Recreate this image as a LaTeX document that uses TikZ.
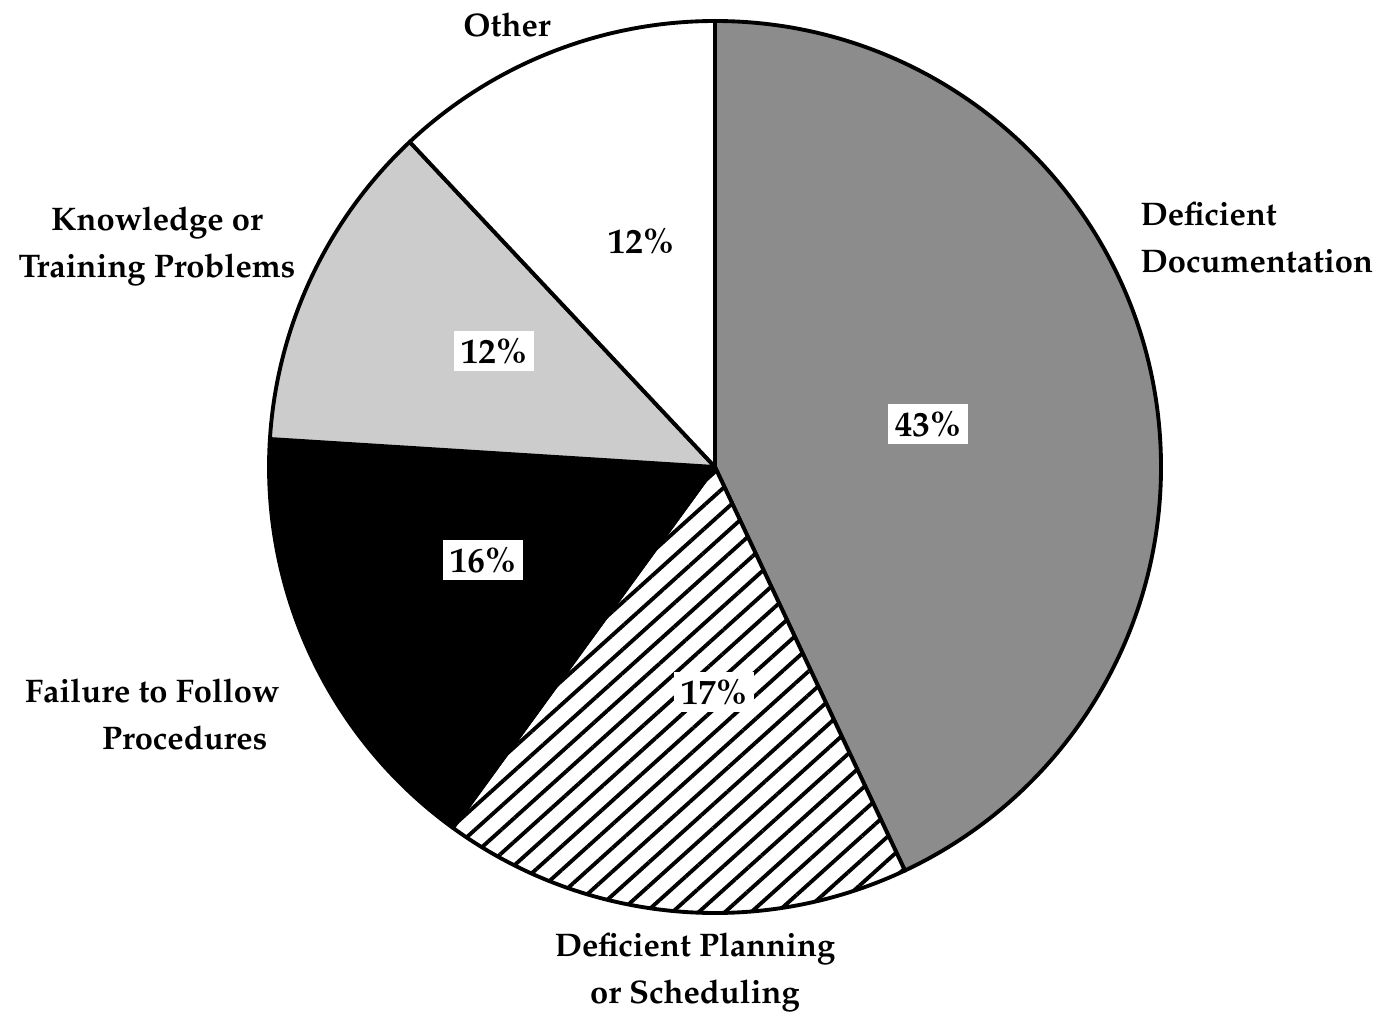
\documentclass[tikz,border=0pt]{standalone}
\usepackage[T1]{fontenc}
\usepackage{mathpazo}
\usetikzlibrary{patterns.meta}

\tikzset{
  slice/.style={draw=black,line width=1.1pt,line join=round},
  lbl/.style={font=\fontsize{9.3}{13.4}\selectfont\bfseries,inner sep=0pt},
  pct/.style={font=\fontsize{10}{12}\selectfont\bfseries,fill=white,inner sep=2pt},
}

\begin{document}
\begin{tikzpicture}
  \useasboundingbox (0,0) rectangle (13.81,10.21);
  \coordinate (c) at (7.15,5.54);
  \def\rad{4.46}

  \filldraw[slice,fill=black!45] (c) -- ++(90:\rad) arc[start angle=90,end angle=-64.8,radius=\rad] -- cycle;
  \filldraw[slice,preaction={fill=white},pattern={Lines[angle=42,distance=5pt,line width=1.1pt]}] (c) -- ++(-64.8:\rad) arc[start angle=-64.8,end angle=-126,radius=\rad] -- cycle;
  \filldraw[slice,fill=black] (c) -- ++(-126:\rad) arc[start angle=-126,end angle=-183.6,radius=\rad] -- cycle;
  \filldraw[slice,fill=black!20] (c) -- ++(176.4:\rad) arc[start angle=176.4,end angle=133.2,radius=\rad] -- cycle;
  \filldraw[slice,fill=white] (c) -- ++(133.2:\rad) arc[start angle=133.2,end angle=90,radius=\rad] -- cycle;

  \node[pct] (p43) at (9.28,5.97) {43\%};
  \node[pct] (p17) at (7.14,3.29) {17\%};
  \node[pct] (p16) at (4.83,4.61) {16\%};
  \node[pct] (p12a) at (4.94,6.70) {12\%};
  \node[pct] (p12b) at (6.41,7.80) {12\%};

  \node[lbl] (other) at (5.07,9.96) {Other};
  \node[lbl,anchor=west,align=left] (doc) at (11.40,7.84) {Deficient\\Documentation};
  \node[lbl,align=center] (know) at (1.57,7.75) {Knowledge or\\Training Problems};
  \node[lbl,anchor=east,align=right] (fail) at (2.80,3.07) {Failure to Follow\\Procedures\hspace*{1.2mm}};
  \node[lbl,align=center] (plan) at (6.95,0.49) {Deficient Planning\\or Scheduling};
\end{tikzpicture}
\end{document}
